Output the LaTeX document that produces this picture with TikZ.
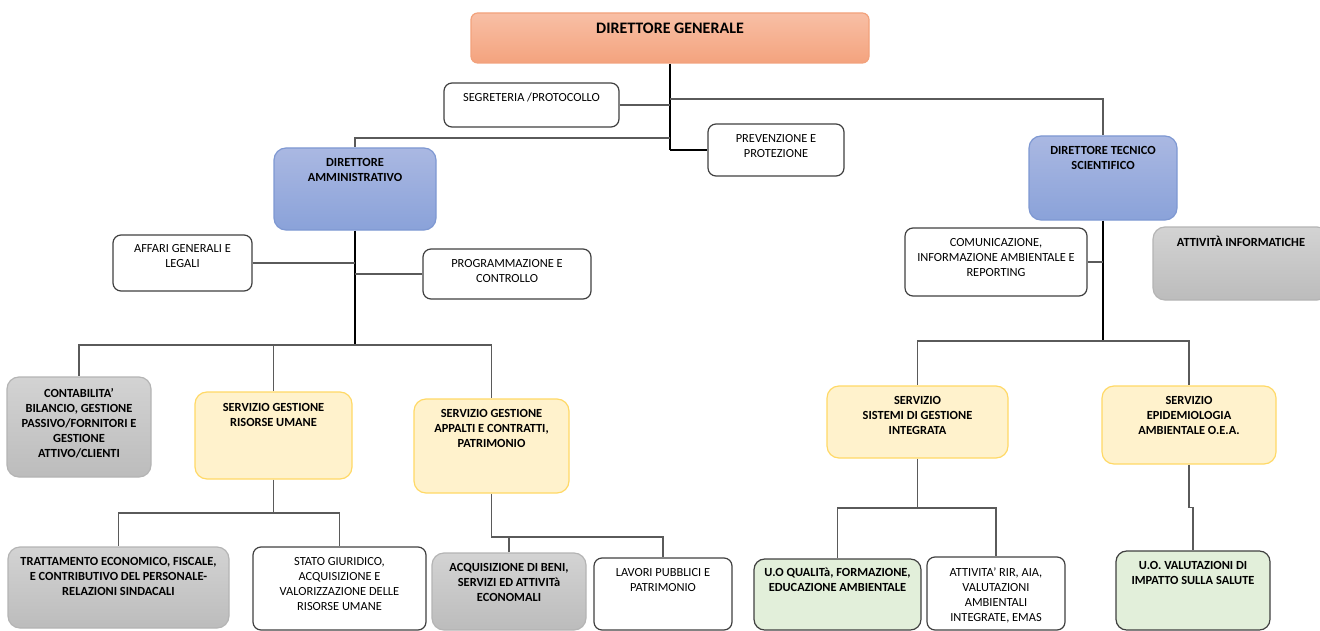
\documentclass[tikz,border=0pt]{standalone}
\usepackage{fontspec}
\setmainfont{Carlito}
\usepackage{xcolor}
\usepackage{tikz}
\usetikzlibrary{positioning, fit, calc}
\definecolor{dgtop}{HTML}{F8BFA5}
\definecolor{dgbot}{HTML}{F4A37E}
\definecolor{dgline}{HTML}{F2A27C}
\definecolor{dirtop}{HTML}{AAB8E2}
\definecolor{dirbot}{HTML}{8AA2D9}
\definecolor{dirline}{HTML}{7E98D2}
\definecolor{greytop}{HTML}{D3D3D3}
\definecolor{greybot}{HTML}{BCBCBC}
\definecolor{greyline}{HTML}{B4B4B4}
\definecolor{servfill}{HTML}{FFF2CC}
\definecolor{servline}{HTML}{FFD966}
\definecolor{uofill}{HTML}{E2EFDA}
\definecolor{boxline}{HTML}{404040}
\definecolor{wireline}{HTML}{5A5A5A}

\begin{document}
\begin{tikzpicture}[x=0.75pt, y=-0.75pt,
        box/.style={rounded corners=6pt, inner sep=0pt, line width=0.9pt},
        dgbox/.style={box, rounded corners=5pt, draw=dgline, top color=dgtop, bottom color=dgbot},
        dirbox/.style={box, rounded corners=9pt, draw=dirline, top color=dirtop, bottom color=dirbot},
        greybox/.style={box, rounded corners=9pt, draw=greyline, top color=greytop, bottom color=greybot},
        servbox/.style={box, rounded corners=9pt, draw=servline, fill=servfill},
        uobox/.style={box, rounded corners=8pt, draw=boxline, fill=uofill},
        wbox/.style={box, draw=boxline, fill=white},
        txt/.style={align=center, inner sep=0pt, font=\fontsize{9.3}{11.25}\selectfont},
        txtb/.style={txt, font=\fontsize{9.3}{11.25}\selectfont\bfseries},
        wire/.style={draw=wireline, line width=1pt},
        trunk/.style={draw=black, line width=1.6pt}]
        \useasboundingbox (0,0) rectangle (1320,631);
        \clip (0,0) rectangle (1320,631);

        % Direttore generale e staff
        \node[dgbox, fit={(471,13) (869,63)}] (dg) {};
        \node[txtb, font=\fontsize{12}{14}\selectfont\bfseries, below=8pt of dg.north] (dg-t) {DIRETTORE GENERALE};
        \node[wbox, fit={(444,83) (619,127)}] (seg) {};
        \node[txt, below=7.8pt of seg.north] (seg-t) {SEGRETERIA /PROTOCOLLO};
        \node[wbox, fit={(708,124) (844,176)}] (prev) {};
        \node[txt, below=7.8pt of prev.north] (prev-t) {PREVENZIONE E\\PROTEZIONE};

        % Direttori
        \node[dirbox, fit={(274,148) (436,230)}] (da) {};
        \node[txtb, below=7.8pt of da.north] (da-t) {DIRETTORE\\AMMINISTRATIVO};
        \node[dirbox, fit={(1029,136) (1177,220)}] (dts) {};
        \node[txtb, below=7.8pt of dts.north] (dts-t) {DIRETTORE TECNICO\\SCIENTIFICO};

        % Staff dei direttori
        \node[wbox, fit={(113,235) (252,291)}] (aff) {};
        \node[txt, below=7.3pt of aff.north] (aff-t) {AFFARI GENERALI E\\LEGALI};
        \node[wbox, fit={(423,249) (591,299)}] (prog) {};
        \node[txt, below=7.8pt of prog.north] (prog-t) {PROGRAMMAZIONE E\\CONTROLLO};
        \node[wbox, fit={(905,228) (1087,296)}] (com) {};
        \node[txt, below=8.3pt of com.north] (com-t) {COMUNICAZIONE,\\INFORMAZIONE AMBIENTALE E\\REPORTING};
        \node[greybox, fit={(1153,227) (1329,300)}] (inf) {};
        \node[txtb, below=6.8pt of inf.north] (inf-t) {ATTIVITÀ INFORMATICHE};

        % Servizi
        \node[greybox, fit={(7,377) (151,477)}] (cont) {};
        \node[txtb, below=8.8pt of cont.north] (cont-t) {CONTABILITA'\\BILANCIO, GESTIONE\\PASSIVO/FORNITORI E\\GESTIONE\\ATTIVO/CLIENTI};
        \node[servbox, fit={(195,392) (352,479)}] (sgru) {};
        \node[txtb, below=8.8pt of sgru.north] (sgru-t) {SERVIZIO GESTIONE\\RISORSE UMANE};
        \node[servbox, fit={(414,399) (569,493)}] (sgac) {};
        \node[txtb, below=8.3pt of sgac.north] (sgac-t) {SERVIZIO GESTIONE\\APPALTI E CONTRATTI,\\PATRIMONIO};
        \node[servbox, fit={(827,386) (1008,458)}] (ssgi) {};
        \node[txtb, below=8.3pt of ssgi.north] (ssgi-t) {SERVIZIO\\SISTEMI DI GESTIONE\\INTEGRATA};
        \node[servbox, fit={(1102,386) (1276,464)}] (sea) {};
        \node[txtb, below=8.3pt of sea.north] (sea-t) {SERVIZIO\\EPIDEMIOLOGIA\\AMBIENTALE O.E.A.};

        % Uffici
        \node[greybox, fit={(8,547) (229,628)}] (trat) {};
        \node[txtb, below=8.3pt of trat.north] (trat-t) {TRATTAMENTO ECONOMICO, FISCALE,\\E CONTRIBUTIVO DEL PERSONALE-\\RELAZIONI SINDACALI};
        \node[wbox, fit={(253,547) (426,630)}] (stato) {};
        \node[txt, below=8.3pt of stato.north] (stato-t) {STATO GIURIDICO,\\ACQUISIZIONE E\\VALORIZZAZIONE DELLE\\RISORSE UMANE};
        \node[greybox, fit={(432,553) (586,630)}] (acq) {};
        \node[txtb, below=8.3pt of acq.north] (acq-t) {ACQUISIZIONE DI BENI,\\SERVIZI ED ATTIVITà\\ECONOMALI};
        \node[wbox, fit={(594,558) (732,630)}] (lav) {};
        \node[txt, below=7.8pt of lav.north] (lav-t) {LAVORI PUBBLICI E\\PATRIMONIO};
        \node[uobox, fit={(754,559) (921,630)}] (uoq) {};
        \node[txtb, below=7.3pt of uoq.north] (uoq-t) {U.O QUALITà, FORMAZIONE,\\EDUCAZIONE AMBIENTALE};
        \node[wbox, fit={(927,557) (1065,630)}] (rir) {};
        \node[txt, below=8.3pt of rir.north] (rir-t) {ATTIVITA' RIR, AIA,\\VALUTAZIONI\\AMBIENTALI\\INTEGRATE, EMAS};
        \node[uobox, fit={(1116,551) (1270,630)}] (uov) {};
        \node[txtb, below=7.8pt of uov.north] (uov-t) {U.O. VALUTAZIONI DI\\IMPATTO SULLA SALUTE};

        % Collegamenti dal direttore generale
        \coordinate (dg-l) at (670,138);
        \coordinate (dg-r) at (670,99);
        \draw[trunk] (dg.south) -- (dg.south |- prev.west);
        \draw[wire, draw=black] (dg.south |- prev.west) -- (prev.west);
        \draw[wire] (seg.east) -- (seg.east -| dg.south);
        \draw[wire] (dg-l) -| (da.north);
        \draw[wire] (dg-r) -| (dts.north);

        % Area amministrativa
        \coordinate (da-bus) at (355,345);
        \draw[trunk] (da.south) -- (da-bus);
        \draw[wire] (aff.east) -- (aff.east -| da.south);
        \draw[wire] (prog.west) -- (prog.west -| da.south);
        \draw[wire] (da-bus) -| (cont.north);
        \draw[wire] (da-bus) -| (sgru.north);
        \draw[wire] (da-bus) -| (sgac.north);
        \coordinate (sgru-bus) at (273.5,513);
        \draw[wire] (sgru.south) -- (sgru-bus) -| (trat.north);
        \draw[wire] (sgru-bus) -| (stato.north);
        \coordinate (sgac-bus) at (491.5,537);
        \draw[wire] (sgac.south) -- (sgac-bus) -| (lav.north);
        \draw[wire] (acq.north) -- (acq.north |- sgac-bus);

        % Area tecnico scientifica
        \coordinate (dts-bus) at (1103,341);
        \draw[trunk] (dts.south) -- (dts-bus);
        \draw[wire] (com.east) -- (com.east -| dts.south);
        \draw[wire] (dts-bus) -| (ssgi.north);
        \draw[wire] (dts-bus) -| (sea.north);
        \coordinate (ssgi-bus) at (917.5,508);
        \draw[wire] (ssgi.south) -- (ssgi-bus) -| (uoq.north);
        \draw[wire] (ssgi-bus) -| (rir.north);
        \draw[wire] (sea.south) -- ++(0,43) -| (uov.north);
\end{tikzpicture}
\end{document}
